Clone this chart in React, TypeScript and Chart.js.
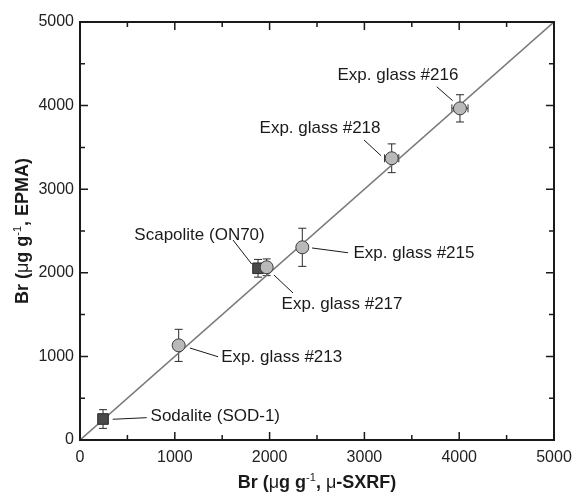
import React, { useEffect, useRef } from "react";
import { Chart, registerables } from "chart.js";

Chart.register(...registerables);

// ---- data ----
const sampleNames = [
  "Sodalite (SOD-1)",
  "Scapolite (ON70)",
  "Exp. glass #213",
  "Exp. glass #217",
  "Exp. glass #215",
  "Exp. glass #218",
  "Exp. glass #216",
];
const sampleKind = ["square", "square", "circle", "circle", "circle", "circle", "circle"];
const sxrfValues = [243, 1878, 1041, 1969, 2345, 3288, 4008];
const sxrfErrors = [0, 0, 0, 0, 0, 75, 85];
const epmaValues = [251, 2054, 1132, 2066, 2305, 3370, 3967];
const epmaErrors = [112, 106, 192, 100, 228, 172, 163];

// label annotation placement (data units)
const labelX = [1427, 1261, 2128, 2764, 3523, 2532, 3354];
const labelY = [279, 2452, 993, 1627, 2237, 3732, 4366];
const leaderFromX = [345, 1614, 1160, 2046, 2447, 2996, 3763];
const leaderFromY = [248, 2392, 1100, 1974, 2297, 3589, 4226];
const leaderToX = [704, 1811, 1456, 2247, 2827, 3175, 3931];
const leaderToY = [267, 2105, 996, 1758, 2240, 3401, 4059];

const tickValues = [0, 1000, 2000, 3000, 4000, 5000];
const tickLabels = ["0", "1000", "2000", "3000", "4000", "5000"];
const oneToOne = [
  { x: 0, y: 0 },
  { x: 5000, y: 5000 },
];

type Part = { t: string; bold?: boolean; sup?: boolean };
const xTitleParts: Part[] = [
  { t: "Br (", bold: true },
  { t: "\u03bc" },
  { t: "g g", bold: true },
  { t: "-1", sup: true },
  { t: ", ", bold: true },
  { t: "\u03bc" },
  { t: "-SXRF)", bold: true },
];
const yTitleParts: Part[] = [
  { t: "Br (", bold: true },
  { t: "\u03bc" },
  { t: "g g", bold: true },
  { t: "-1", sup: true },
  { t: ", EPMA)", bold: true },
];

const FONT = "'Liberation Sans', Arial, sans-serif";

function partFont(p: Part) {
  if (p.sup) return `11px ${FONT}`;
  if (p.bold) return `bold 18px ${FONT}`;
  return `18px ${FONT}`;
}

function drawRich(ctx: CanvasRenderingContext2D, parts: Part[], cx: number, cy: number, rot: number) {
  ctx.save();
  ctx.translate(cx, cy);
  ctx.rotate(rot);
  let total = 0;
  const widths = parts.map((p) => {
    ctx.font = partFont(p);
    const w = ctx.measureText(p.t).width;
    total += w;
    return w;
  });
  let x = -total / 2;
  ctx.fillStyle = "#1a1a1a";
  ctx.textBaseline = "alphabetic";
  ctx.textAlign = "left";
  parts.forEach((p, i) => {
    ctx.font = partFont(p);
    ctx.fillText(p.t, x, p.sup ? -7 : 0);
    x += widths[i];
  });
  ctx.restore();
}

const decorPlugin = {
  id: "decor",
  beforeDatasetsDraw(chart: any) {
    const ctx = chart.ctx as CanvasRenderingContext2D;
    const xs = chart.scales.x;
    const ys = chart.scales.y;
    ctx.save();
    ctx.strokeStyle = "#2a2a2a";
    ctx.lineWidth = 1;
    const cap = 4;
    for (let i = 0; i < sxrfValues.length; i++) {
      const px = xs.getPixelForValue(sxrfValues[i]);
      const py = ys.getPixelForValue(epmaValues[i]);
      const e = epmaErrors[i];
      if (e > 0) {
        const t = ys.getPixelForValue(epmaValues[i] + e);
        const b = ys.getPixelForValue(epmaValues[i] - e);
        ctx.beginPath();
        ctx.moveTo(px, t);
        ctx.lineTo(px, b);
        ctx.moveTo(px - cap, t);
        ctx.lineTo(px + cap, t);
        ctx.moveTo(px - cap, b);
        ctx.lineTo(px + cap, b);
        ctx.stroke();
      }
      const ex = sxrfErrors[i];
      if (ex > 0) {
        const l = xs.getPixelForValue(sxrfValues[i] - ex);
        const r = xs.getPixelForValue(sxrfValues[i] + ex);
        ctx.beginPath();
        ctx.moveTo(l, py);
        ctx.lineTo(r, py);
        ctx.moveTo(l, py - cap);
        ctx.lineTo(l, py + cap);
        ctx.moveTo(r, py - cap);
        ctx.lineTo(r, py + cap);
        ctx.stroke();
      }
    }
    ctx.restore();
  },
  afterDatasetsDraw(chart: any) {
    const ctx = chart.ctx as CanvasRenderingContext2D;
    const xs = chart.scales.x;
    const ys = chart.scales.y;
    const area = chart.chartArea;
    ctx.save();
    // leader lines
    ctx.strokeStyle = "#1a1a1a";
    ctx.lineWidth = 1;
    for (let i = 0; i < sampleNames.length; i++) {
      ctx.beginPath();
      ctx.moveTo(xs.getPixelForValue(leaderFromX[i]), ys.getPixelForValue(leaderFromY[i]));
      ctx.lineTo(xs.getPixelForValue(leaderToX[i]), ys.getPixelForValue(leaderToY[i]));
      ctx.stroke();
    }
    // labels
    ctx.fillStyle = "#1a1a1a";
    ctx.font = `17px ${FONT}`;
    ctx.textAlign = "center";
    ctx.textBaseline = "middle";
    for (let i = 0; i < sampleNames.length; i++) {
      ctx.fillText(sampleNames[i], xs.getPixelForValue(labelX[i]), ys.getPixelForValue(labelY[i]));
    }
    // frame
    ctx.strokeStyle = "#1a1a1a";
    ctx.lineWidth = 2;
    ctx.strokeRect(area.left, area.top, area.right - area.left, area.bottom - area.top);
    // inward ticks on all sides
    ctx.lineWidth = 1.5;
    for (let v = 0; v <= 5000; v += 500) {
      const len = v % 1000 === 0 ? 8 : 5;
      const px = xs.getPixelForValue(v);
      const py = ys.getPixelForValue(v);
      ctx.beginPath();
      ctx.moveTo(px, area.bottom);
      ctx.lineTo(px, area.bottom - len);
      ctx.moveTo(px, area.top);
      ctx.lineTo(px, area.top + len);
      ctx.moveTo(area.left, py);
      ctx.lineTo(area.left + len, py);
      ctx.moveTo(area.right, py);
      ctx.lineTo(area.right - len, py);
      ctx.stroke();
    }
    ctx.restore();
    // axis titles
    drawRich(ctx, xTitleParts, (area.left + area.right) / 2, 488, 0);
    drawRich(ctx, yTitleParts, 28, (area.top + area.bottom) / 2, -Math.PI / 2);
  },
};

const tickCallback = (v: any) => {
  const i = tickValues.indexOf(Number(v));
  return i >= 0 ? tickLabels[i] : "";
};

export default function App() {
  const ref = useRef<HTMLCanvasElement | null>(null);
  useEffect(() => {
    if (!ref.current) return;
    const circles = sxrfValues
      .map((x, i) => ({ x, y: epmaValues[i], k: sampleKind[i] }))
      .filter((d) => d.k === "circle")
      .map((d) => ({ x: d.x, y: d.y }));
    const squares = sxrfValues
      .map((x, i) => ({ x, y: epmaValues[i], k: sampleKind[i] }))
      .filter((d) => d.k === "square")
      .map((d) => ({ x: d.x, y: d.y }));
    const chart = new Chart(ref.current, {
      type: "scatter",
      data: {
        datasets: [
          {
            label: "glass",
            data: circles,
            pointStyle: "circle",
            pointRadius: 6.5,
            backgroundColor: "#b9b9b9",
            borderColor: "#3a3a3a",
            borderWidth: 1,
            order: 1,
          },
          {
            label: "mineral",
            data: squares,
            pointStyle: "rect",
            pointRadius: 7.5,
            backgroundColor: "#4a4a4a",
            borderColor: "#2a2a2a",
            borderWidth: 1,
            order: 2,
          },
          {
            type: "line",
            label: "1:1",
            data: oneToOne,
            borderColor: "#7a7a7a",
            borderWidth: 1.6,
            pointRadius: 0,
            showLine: true,
            order: 3,
          } as any,
        ],
      },
      options: {
        animation: false,
        responsive: false,
        devicePixelRatio: 1,
        layout: { padding: { left: 0, right: 19, top: 22, bottom: 0 } },
        plugins: {
          legend: { display: false },
          tooltip: { enabled: false },
        },
        scales: {
          x: {
            type: "linear",
            min: 0,
            max: 5000,
            afterFit: (s: any) => {
              s.height = 52;
              s.paddingLeft = 0;
              s.paddingRight = 0;
            },
            afterBuildTicks: (s: any) => {
              s.ticks = tickValues.map((v) => ({ value: v }));
            },
            grid: { display: false, drawTicks: false },
            border: { display: false },
            ticks: {
              padding: 8,
              color: "#222",
              font: { family: FONT, size: 16 },
              maxRotation: 0,
              callback: tickCallback,
            },
          },
          y: {
            type: "linear",
            min: 0,
            max: 5000,
            afterFit: (s: any) => {
              s.width = 80;
              s.paddingTop = 0;
              s.paddingBottom = 0;
            },
            afterBuildTicks: (s: any) => {
              s.ticks = tickValues.map((v) => ({ value: v }));
            },
            grid: { display: false, drawTicks: false },
            border: { display: false },
            ticks: {
              padding: 6,
              color: "#222",
              font: { family: FONT, size: 16 },
              callback: tickCallback,
            },
          },
        },
      },
      plugins: [decorPlugin],
    });
    return () => chart.destroy();
  }, []);
  return (
    <div style={{ position: "fixed", left: 0, top: 0, width: 573, height: 492, background: "#fff" }}>
      <canvas ref={ref} width={573} height={492} />
    </div>
  );
}
